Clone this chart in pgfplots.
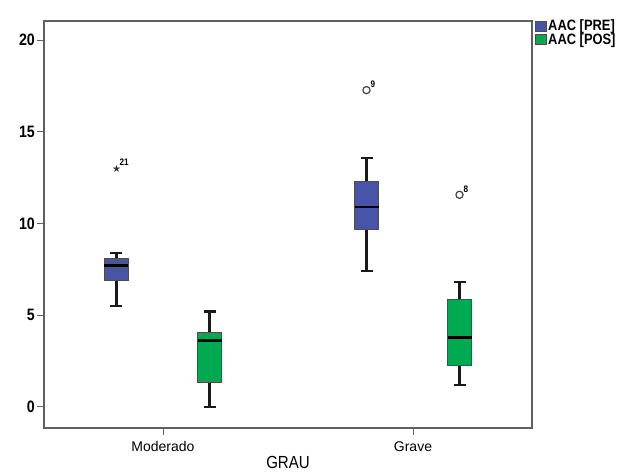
\documentclass[border=0pt]{standalone}
\usepackage{fontspec}
\setmainfont{Liberation Sans}
\newfontfamily\narrowfont[FakeStretch=0.86]{Liberation Sans}
\newfontfamily\symfont{DejaVu Sans}
\usepackage{pgfplots}
\pgfplotsset{compat=1.18}
\usepgfplotslibrary{statistics}
\definecolor{preblue}{RGB}{72,84,168}
\definecolor{posgreen}{RGB}{0,170,80}
\definecolor{axisgray}{RGB}{95,95,95}
\begin{document}
\begin{tikzpicture}
\begin{axis}[
  scale only axis, width=488bp, height=407bp,
  xmin=-0.476, xmax=1.476, ymin=-1.15, ymax=21.05,
  xtick={0,1}, xticklabels={Moderado,Grave},
  ytick={0,5,10,15,20},
  xtick pos=bottom, ytick pos=left,
  tick align=outside, major tick length=7bp,
  axis line style={draw=axisgray, line width=1.3bp},
  tick style={draw=axisgray, line width=1bp},
  /pgf/number format/assume math mode=true,
  yticklabel style={font=\narrowfont\bfseries\fontsize{16.5bp}{18bp}\selectfont, inner sep=2bp},
  xticklabel style={font=\fontsize{14bp}{16bp}\selectfont, yshift=-3bp},
  xlabel={GRAU},
  xlabel style={font=\narrowfont\fontsize{17.5bp}{19bp}\selectfont, yshift=2bp},
  legend style={at={(rel axis cs:1,1)}, anchor=north west, xshift=0bp, yshift=4bp,
    draw=none, fill=none, font=\narrowfont\bfseries\fontsize{15bp}{14bp}\selectfont,
    nodes={inner sep=0.5bp}, row sep=0.5bp, column sep=1bp},
  legend cell align=left,
  legend image code/.code={\draw[#1, draw=black!70, line width=0.5bp] (0bp,-5bp) rectangle (11bp,5bp);},
  boxplot/draw direction=y,
]
\addlegendimage{fill=preblue}
\addlegendentry{AAC [PRE]}
\addlegendimage{fill=posgreen}
\addlegendentry{AAC [POS]}

\pgfplotsset{
  mybox/.style={forget plot, draw=black!90, line width=2.2bp,
    boxplot/every box/.style={fill=#1, draw=black!70, line width=1.1bp},
    boxplot/every median/.style={draw=black, line width=2.6bp},
    boxplot/every whisker/.style={draw=black!90, line width=2.2bp}},
}
% Moderado PRE
\addplot[mybox=preblue,
  boxplot prepared={draw direction=y, draw position=-0.186, lower whisker=5.49, lower quartile=6.89,
    median=7.71, upper quartile=8.10, upper whisker=8.40,
    box extend=0.096, whisker extend=0.048},
  mark=text, text mark={\symfont\fontsize{10bp}{10bp}\selectfont\color{black!80}★}]
  table[row sep=\\, y index=0] {data\\ 13.0\\};
% Moderado POS
\addplot[mybox=posgreen,
  boxplot prepared={draw direction=y, draw position=0.186, lower whisker=0.0, lower quartile=1.31,
    median=3.63, upper quartile=4.06, upper whisker=5.20,
    box extend=0.096, whisker extend=0.048}]
  coordinates {};
% Grave PRE
\addplot[mybox=preblue,
  boxplot prepared={draw direction=y, draw position=0.814, lower whisker=7.40, lower quartile=9.70,
    median=10.90, upper quartile=12.28, upper whisker=13.58,
    box extend=0.096, whisker extend=0.048},
  mark=o, mark size=3.6bp, mark options={draw=black!75, fill=white, line width=1.2bp}]
  table[row sep=\\, y index=0] {data\\ 17.28\\};
% Grave POS
\addplot[mybox=posgreen,
  boxplot prepared={draw direction=y, draw position=1.186, lower whisker=1.20, lower quartile=2.28,
    median=3.79, upper quartile=5.87, upper whisker=6.80,
    box extend=0.096, whisker extend=0.048},
  mark=o, mark size=3.6bp, mark options={draw=black!75, fill=white, line width=1.2bp}]
  table[row sep=\\, y index=0] {data\\ 11.57\\};

\node[anchor=south west, font=\narrowfont\bfseries\fontsize{9.5bp}{10bp}\selectfont, inner sep=0pt]
  at (axis cs:-0.186,13.0) [xshift=3bp, yshift=3bp] {21};
\node[anchor=south west, font=\narrowfont\bfseries\fontsize{9.5bp}{10bp}\selectfont, inner sep=0pt]
  at (axis cs:0.814,17.28) [xshift=4bp, yshift=2bp] {9};
\node[anchor=south west, font=\narrowfont\bfseries\fontsize{9.5bp}{10bp}\selectfont, inner sep=0pt]
  at (axis cs:1.186,11.57) [xshift=4bp, yshift=2bp] {8};
\end{axis}
\pgfresetboundingbox
\path[use as bounding box] (-44bp,-46bp) rectangle (584bp,428bp);
\end{tikzpicture}
\end{document}
